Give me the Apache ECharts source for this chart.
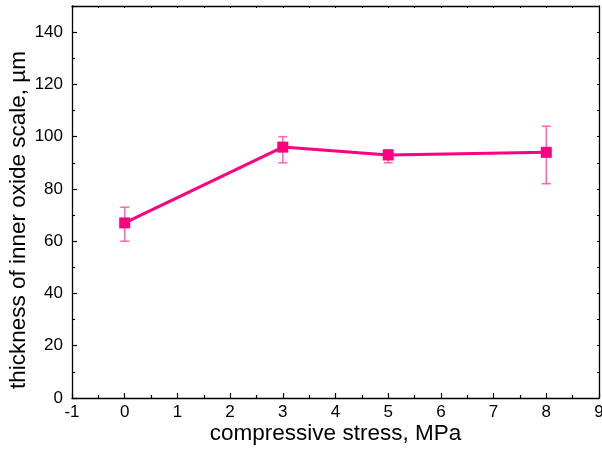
<!DOCTYPE html>
<html><head><meta charset="utf-8">
<script src="https://cdn.jsdelivr.net/npm/echarts@6/dist/echarts.min.js"></script>
<style>html,body{margin:0;padding:0;background:#fff;overflow:hidden}#c{width:602px;height:452px}</style>
</head><body><div id="c"></div>
<script>
const stress = [0, 3, 5, 8];
const thickness = [67, 96, 93, 94];
const errLow = [60, 90, 90, 82];
const errHigh = [73, 100, 95, 104];
const xTicks = [-1, 0, 1, 2, 3, 4, 5, 6, 7, 8, 9];
const yTicks = [0, 20, 40, 60, 80, 100, 120, 140];

const FONT = '"Liberation Sans", Arial, Helvetica, sans-serif';
const chart = echarts.init(document.getElementById('c'), null, {renderer: 'canvas', width: 602, height: 452});
const axisLine = {show: true, onZero: false, lineStyle: {color: '#000', width: 1.3}};
chart.setOption({
  animation: false,
  backgroundColor: '#fff',
  grid: {left: 72, right: 3, top: 6, bottom: 54, containLabel: false, outerBoundsMode: 'none'},
  xAxis: [{
    type: 'value', min: xTicks[0], max: xTicks[xTicks.length - 1], interval: 1,
    axisLine: axisLine,
    axisTick: {inside: true, length: 5, lineStyle: {color: '#000', width: 1.2}},
    minorTick: {show: true, splitNumber: 2, length: 3, lineStyle: {color: '#000', width: 1.2}},
    splitLine: {show: false},
    axisLabel: {color: '#000', fontSize: 17, fontFamily: FONT, margin: 6},
    name: 'compressive stress, MPa', nameLocation: 'middle', nameGap: 24, nameMoveOverlap: false,
    nameTextStyle: {color: '#000', fontSize: 22.5, fontFamily: FONT}
  }, {
    type: 'value', position: 'top', min: xTicks[0], max: xTicks[xTicks.length - 1], interval: 1,
    axisLine: axisLine,
    axisTick: {inside: true, length: 2, lineStyle: {color: '#000', width: 1}},
    minorTick: {show: true, splitNumber: 2, length: 2, lineStyle: {color: '#000', width: 1}},
    splitLine: {show: false}, axisLabel: {show: false}
  }],
  yAxis: [{
    type: 'value', min: 0, max: 150, interval: 20,
    axisLine: axisLine,
    axisTick: {inside: true, length: 5, lineStyle: {color: '#000', width: 1.2}},
    minorTick: {show: true, splitNumber: 2, length: 3, lineStyle: {color: '#000', width: 1.2}},
    splitLine: {show: false},
    axisLabel: {color: '#000', fontSize: 17, fontFamily: FONT, margin: 9,
      formatter: v => yTicks.indexOf(v) >= 0 ? String(v) : ''},
    name: 'thickness of inner oxide scale, \u00b5m', nameLocation: 'middle', nameGap: 42, nameRotate: 90,
    nameMoveOverlap: false,
    nameTextStyle: {color: '#000', fontSize: 22.5, fontFamily: FONT, padding: [0, 36, 0, 0]}
  }, {
    type: 'value', position: 'right', min: 0, max: 150, interval: 20,
    axisLine: axisLine,
    axisTick: {inside: true, length: 2, lineStyle: {color: '#000', width: 1}},
    minorTick: {show: true, splitNumber: 2, length: 2, lineStyle: {color: '#000', width: 1}},
    splitLine: {show: false}, axisLabel: {show: false}
  }],
  series: [{
    type: 'custom',
    data: stress.map((x, i) => [x, errLow[i], errHigh[i]]),
    z: 1,
    renderItem: function (params, api) {
      const lo = api.coord([api.value(0), api.value(1)]);
      const hi = api.coord([api.value(0), api.value(2)]);
      const w = 4.5;
      const style = {stroke: '#ff66b3', lineWidth: 1.5};
      return {type: 'group', children: [
        {type: 'line', shape: {x1: lo[0], y1: lo[1], x2: hi[0], y2: hi[1]}, style: style},
        {type: 'line', shape: {x1: lo[0] - w, y1: lo[1], x2: lo[0] + w, y2: lo[1]}, style: style},
        {type: 'line', shape: {x1: hi[0] - w, y1: hi[1], x2: hi[0] + w, y2: hi[1]}, style: style}
      ]};
    }
  }, {
    type: 'line',
    data: stress.map((x, i) => [x, thickness[i]]),
    z: 2,
    symbol: 'rect', symbolSize: 11,
    lineStyle: {color: '#ff0080', width: 3},
    itemStyle: {color: '#ff0080'}
  }]
});
</script></body></html>
